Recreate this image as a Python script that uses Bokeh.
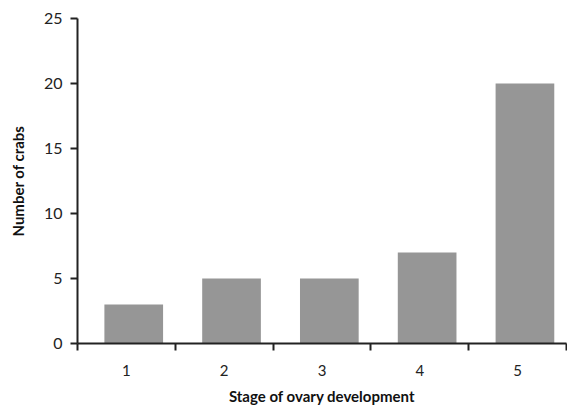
from bokeh.plotting import figure
from bokeh.models import Range1d, FixedTicker
from bokeh.embed import file_html
from bokeh.resources import INLINE

stages = [1, 2, 3, 4, 5]
crabs = [3, 5, 5, 7, 20]
y_ticks = [0, 5, 10, 15, 20, 25]
bar_offset = 0.075
bar_x = [s + bar_offset for s in stages]

FONT = "Lato"

p = figure(width=567, height=408, output_backend="svg", toolbar_location=None,
           x_range=Range1d(0.5, 5.5), y_range=Range1d(0, 25),
           min_border_left=77, min_border_right=1, min_border_top=18, min_border_bottom=65)
p.outline_line_color = None
p.xgrid.visible = False
p.ygrid.visible = False

p.vbar(x=bar_x, top=crabs, width=0.6, bottom=0, fill_color="#969696", line_color=None)

xa = p.xaxis[0]
xa.ticker = FixedTicker(ticks=stages, minor_ticks=[0.5, 1.5, 2.5, 3.5, 4.5, 5.5])
xa.major_tick_out = 0
xa.major_tick_in = 0
xa.minor_tick_out = 7
xa.minor_tick_in = 0
xa.minor_tick_line_color = "#222222"
xa.minor_tick_line_width = 2
xa.axis_line_color = "#222222"
xa.axis_line_width = 2
xa.major_label_standoff = 14
xa.major_label_text_font = FONT
xa.major_label_text_font_size = "15px"
xa.major_label_text_color = "#222222"
xa.axis_label = "Stage of ovary development"
xa.axis_label_text_font = FONT
xa.axis_label_text_font_style = "bold"
xa.axis_label_text_font_size = "15px"
xa.axis_label_text_color = "#111111"
xa.axis_label_standoff = 8

ya = p.yaxis[0]
ya.ticker = FixedTicker(ticks=y_ticks, minor_ticks=[])
ya.major_tick_out = 7
ya.major_tick_in = 0
ya.major_tick_line_color = "#222222"
ya.major_tick_line_width = 2
ya.axis_line_color = "#222222"
ya.axis_line_width = 2
ya.major_label_standoff = 8
ya.major_label_text_font = FONT
ya.major_label_text_font_size = "16px"
ya.major_label_text_color = "#222222"
ya.axis_label = "Number of crabs"
ya.axis_label_text_font = FONT
ya.axis_label_text_font_style = "bold"
ya.axis_label_text_font_size = "15px"
ya.axis_label_text_color = "#111111"
ya.axis_label_standoff = 14

open("out.html", "w").write(file_html(p, INLINE))
